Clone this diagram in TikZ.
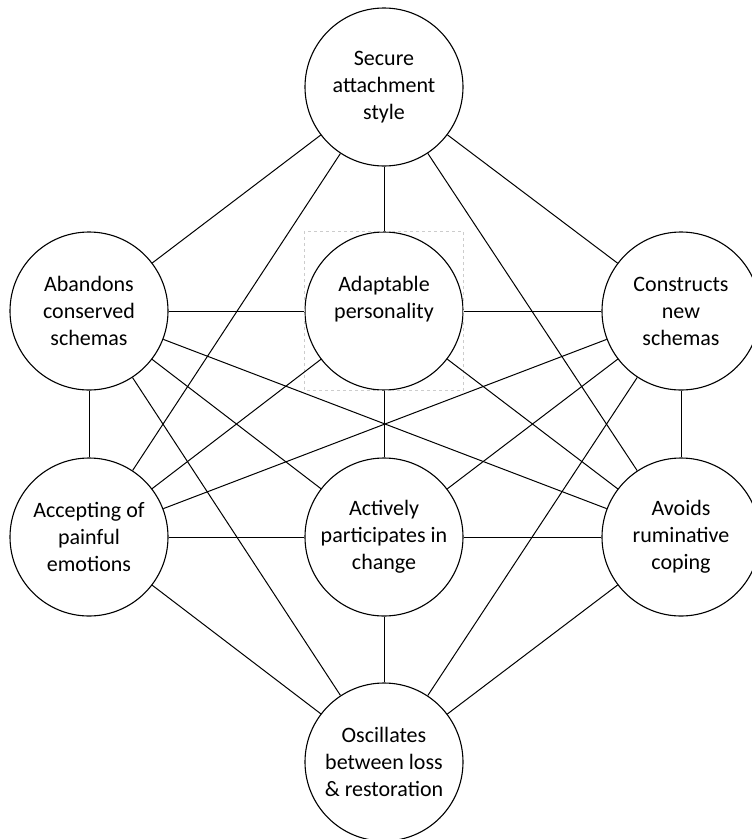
\documentclass[tikz,border=0pt]{standalone}
\usepackage{fontspec}
\setmainfont{Carlito}
\begin{document}
\begin{tikzpicture}[x=1pt,y=-1pt,
  circ/.style={circle,draw,line width=1.1pt,minimum size=158pt,inner sep=0pt,align=center,
    font=\fontsize{22}{27}\selectfont},
  conn/.style={line width=1pt}]
\useasboundingbox (0,0) rectangle (752,839);
\node[circ] (S) at (384,87) {Secure\\attachment\\style};
\node[circ] (A) at (89,311) {Abandons\\conserved\\schemas};
\node[circ] (P) at (384,311) {Adaptable\\personality\\\mbox{}};
\node[circ] (C) at (681,311) {Constructs\\new\\schemas};
\node[circ] (E) at (89,537) {Accepting of\\painful\\emotions};
\node[circ] (M) at (384,537) {Actively\\participates in\\change};
\node[circ] (R) at (681,537) {Avoids\\ruminative\\coping};
\node[circ] (O) at (384,762) {Oscillates\\between loss\\\& restoration};
\draw[gray!40,dashed,line width=0.6pt] (P.west |- P.north) rectangle (P.east |- P.south);
\foreach \a/\b in {S/A,S/P,S/C,S/E,S/R,
  A/P,A/E,A/R,A/M,A/O,
  C/P,C/R,C/E,C/M,C/O,
  P/E,P/M,P/R,
  E/M,E/O,R/M,R/O,M/O}
  \draw[conn] (\a) -- (\b);
\end{tikzpicture}
\end{document}
